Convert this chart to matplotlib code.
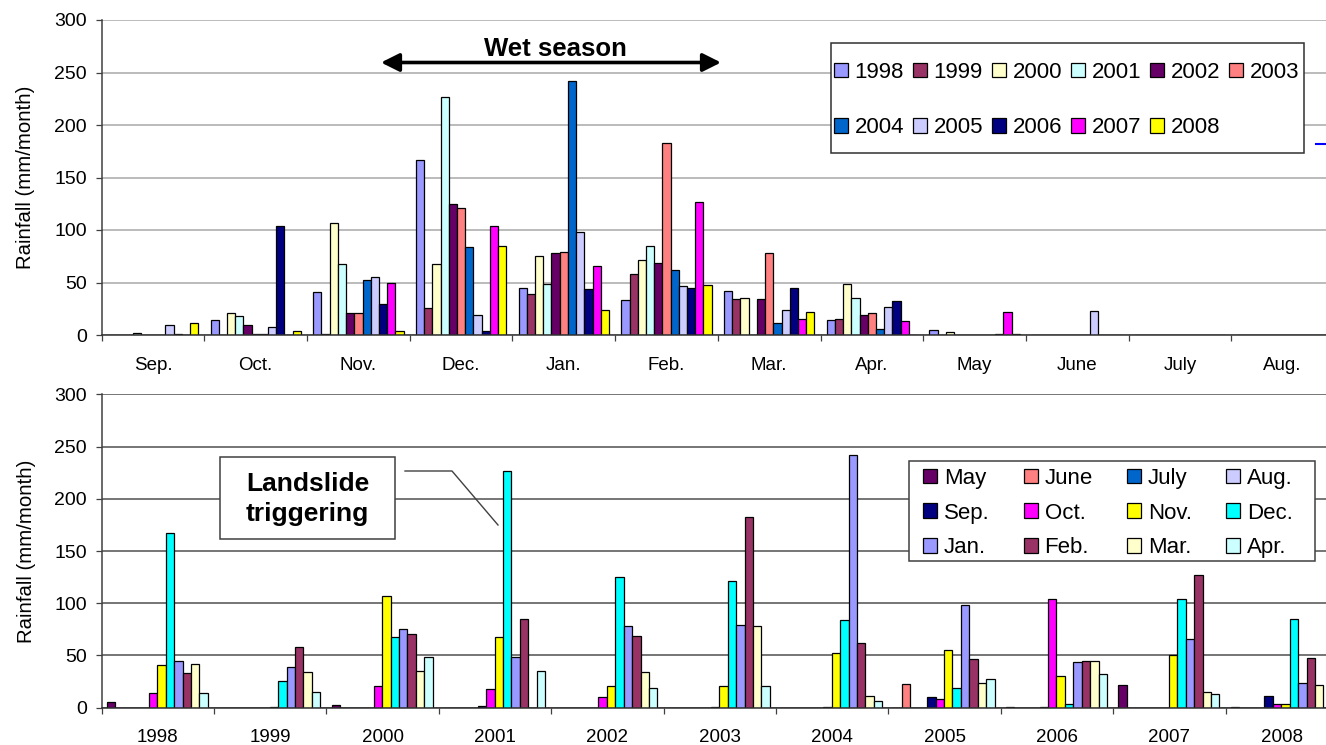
import numpy as np
import matplotlib
matplotlib.use("Agg")
import matplotlib.pyplot as plt
from matplotlib.patches import Rectangle
from matplotlib.lines import Line2D

plt.rcParams['font.family'] = ['Liberation Sans', 'DejaVu Sans']

# months in hydrological order (top panel)
months = ['Sep.', 'Oct.', 'Nov.', 'Dec.', 'Jan.', 'Feb.', 'Mar.', 'Apr.', 'May', 'June', 'July', 'Aug.']
years = ['1998', '1999', '2000', '2001', '2002', '2003', '2004', '2005', '2006', '2007', '2008']

# rainfall (mm/month), Sep..Aug for each year
rain_1998 = [0, 14, 41, 167, 45, 33, 42, 14, 5, 0, 0, 0]
rain_1999 = [0, 0, 0.5, 26, 39, 58, 34, 15, 0, 0, 0, 0]
rain_2000 = [0, 21, 107, 68, 75, 71, 35, 49, 3, 0, 0, 0]
rain_2001 = [1.5, 18, 68, 227, 49, 85, 0, 35, 0, 0, 0, 0]
rain_2002 = [0, 10, 21, 125, 78, 69, 34, 19, 0, 0, 0, 0]
rain_2003 = [0, 1, 21, 121, 79, 183, 78, 21, 0, 0, 0, 0]
rain_2004 = [0, 0.5, 52, 84, 242, 62, 11, 6, 0, 0, 0, 0]
rain_2005 = [10, 8, 55, 19, 98, 47, 24, 27, 0, 23, 0, 0]
rain_2006 = [0.5, 104, 30, 4, 44, 45, 45, 32, 1, 0, 0, 0]
rain_2007 = [0, 0, 50, 104, 66, 127, 15, 13, 22, 0, 0, 0]
rain_2008 = [11, 4, 4, 85, 24, 48, 22, 0, 0.5, 0, 0, 0]

rain = np.array([rain_1998, rain_1999, rain_2000, rain_2001, rain_2002, rain_2003,
                 rain_2004, rain_2005, rain_2006, rain_2007, rain_2008])

year_colors = ['#9999FF', '#993366', '#FFFFCC', '#CCFFFF', '#660066', '#FF8080',
               '#0066CC', '#CCCCFF', '#000080', '#FF00FF', '#FFFF00']

# bottom panel: month series order inside each year group
bottom_months = ['May', 'June', 'July', 'Aug.', 'Sep.', 'Oct.', 'Nov.', 'Dec.', 'Jan.', 'Feb.', 'Mar.', 'Apr.']
month_colors = ['#660066', '#FF8080', '#0066CC', '#CCCCFF', '#000080', '#FF00FF',
                '#FFFF00', '#00FFFF', '#9999FF', '#993366', '#FFFFCC', '#CCFFFF']

W, H = 1326, 745
fig = plt.figure(figsize=(W / 100, H / 100), dpi=100)

def fx(px):
    return px / W

def fy(py):
    return 1 - py / H

ax1 = fig.add_axes([fx(101.7), fy(335), fx(1334 - 101.7), (335 - 20) / H])
ax2 = fig.add_axes([fx(101.7), fy(707.7), fx(1338 - 101.7), (707.7 - 394.3) / H])

def style_axis(ax, ngroups, labels, gridcolor):
    ax.set_xlim(0, ngroups)
    ax.set_ylim(0, 300)
    ax.set_yticks(np.arange(0, 301, 50))
    ax.yaxis.grid(True, color=gridcolor, lw=1.1, zorder=0)
    ax.set_axisbelow(True)
    ax.spines['top'].set_visible(False)
    ax.spines['right'].set_visible(False)
    ax.spines['left'].set_color('#404040')
    ax.spines['bottom'].set_color('#303030')
    ax.spines['left'].set_linewidth(1.1)
    ax.spines['bottom'].set_linewidth(1.1)
    ax.set_xticks(np.arange(0, ngroups + 1))
    ax.set_xticklabels([])
    ax.set_xticks(np.arange(ngroups) + 0.5, minor=True)
    ax.set_xticklabels(labels, minor=True, fontsize=13.5)
    ax.tick_params(axis='x', which='major', direction='out', length=4.5, width=0.9, color='#404040')
    ax.tick_params(axis='x', which='minor', length=0, pad=15.5)
    ax.tick_params(axis='y', direction='out', length=4.5, width=0.9, color='#404040',
                   labelsize=14, pad=6)
    ax.set_ylabel('Rainfall (mm/month)', fontsize=14.7)

# Top panel: months grouped, one bar per year
bw1 = 0.08
for j, yr in enumerate(years):
    x = np.arange(12) + 0.06 + j * bw1
    ax1.bar(x, rain[j], width=bw1, align='edge', color=year_colors[j],
            edgecolor='black', linewidth=0.9, label=yr, zorder=2)
style_axis(ax1, 12, months, '#a8a8a8')

# Bottom panel: years grouped, one bar per month
order = [8, 9, 10, 11, 0, 1, 2, 3, 4, 5, 6, 7]
bw2 = 0.075
for k, m in enumerate(bottom_months):
    x = np.arange(len(years)) + 0.045 + k * bw2
    ax2.bar(x, rain[:, order[k]], width=bw2, align='edge', color=month_colors[k],
            edgecolor='black', linewidth=0.9, label=m, zorder=2)
style_axis(ax2, len(years), years, '#505050')
ax1.yaxis.set_label_coords(-0.054, 0.5)
ax2.yaxis.set_label_coords(-0.0535, 0.5)

# Top legend (row-major order, 6 columns)
h1, l1 = ax1.get_legend_handles_labels()
idx1 = [0, 6, 1, 7, 2, 8, 3, 9, 4, 10, 5]
fig.add_artist(Rectangle((fx(831), fy(153)), fx(1304 - 831), (153 - 43) / H,
                         transform=fig.transFigure, facecolor='white',
                         edgecolor='#303030', lw=1.1, zorder=3))
leg1 = fig.legend([h1[i] for i in idx1], [l1[i] for i in idx1], ncol=6,
                  loc='upper left', bbox_to_anchor=(fx(834), fy(62)),
                  frameon=False, fontsize=16, borderpad=0, borderaxespad=0,
                  handlelength=0.63, handleheight=0.63, handletextpad=0.3,
                  columnspacing=0.4, labelspacing=1.55)
leg1.set_zorder(4)

# Bottom legend (row-major order, 4 columns)
h2, l2 = ax2.get_legend_handles_labels()
idx2 = [0, 4, 8, 1, 5, 9, 2, 6, 10, 3, 7, 11]
fig.add_artist(Rectangle((fx(909), fy(561)), fx(1315 - 909), (561 - 461) / H,
                         transform=fig.transFigure, facecolor='white',
                         edgecolor='#404040', lw=1.1, zorder=3))
leg2 = fig.legend([h2[i] for i in idx2], [l2[i] for i in idx2], ncol=4,
                  loc='upper left', bbox_to_anchor=(fx(923), fy(468)),
                  frameon=False, fontsize=16, borderpad=0, borderaxespad=0,
                  handlelength=0.63, handleheight=0.63, handletextpad=0.3,
                  columnspacing=1.55, labelspacing=0.61)
leg2.set_zorder(4)

# Wet season arrow and label
ax1.annotate('', xy=(fx(381), fy(62.5)), xytext=(fx(721), fy(62.5)),
             xycoords='figure fraction', textcoords='figure fraction',
             arrowprops=dict(arrowstyle='<|-|>,head_length=1.1,head_width=0.55',
                             color='black', lw=2.6, shrinkA=0, shrinkB=0))
fig.text(fx(555.5), fy(56), 'Wet season', ha='center', va='baseline',
         fontsize=18.5, fontweight='bold')

# Landslide triggering callout
fig.add_artist(Rectangle((fx(220), fy(539)), fx(395 - 220), (539 - 457) / H,
                         transform=fig.transFigure, facecolor='white',
                         edgecolor='#404040', lw=1.1, zorder=3))
fig.text(fx(307.5), fy(499), 'Landslide\ntriggering', ha='center', va='center',
         fontsize=19, fontweight='bold', linespacing=1.3, zorder=4)
fig.add_artist(Line2D([fx(405), fx(452), fx(498)], [fy(471), fy(471), fy(525)],
                      color='#404040', lw=1.0))

# small blue mark at right edge of top panel
fig.add_artist(Line2D([fx(1316), fx(1326)], [fy(144), fy(144)], color='#0000FF', lw=1.5))

fig.savefig('out.png', dpi=100)
